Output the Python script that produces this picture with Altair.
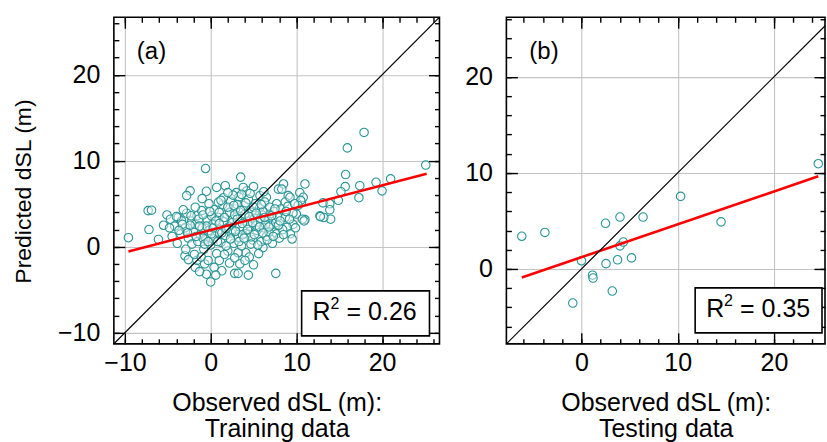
import altair as alt
import pandas as pd

# ---------------- data ----------------
train_obs = [-9.6, -7.3, -6.9, -7.2, -6.1, -5.1, -4.7, -3.8, -3.4, -2.8,
             -2.2, -1.6, -1.05, -2.4, -2.8, -0.6, 3.5, -0.5, 0.7, 1.7,
             3.0, 4.2, 5.75, 6.5, 7.9, 2.8, 3.2, 4.4, 5.0, 7.6,
             -0.5, 0.0, -3.0, -2.6, -1.8, -0.7, 11.0, 12.75, 10.0, 6.1,
             4.1, 3.2, 11.0, 8.5, 8.3, 9.05, 10.4, 10.6, 7.7, 8.7,
             17.9, 15.95, 25.1, 15.75, 15.7, 17.4, 19.3, 21.0, 20.0, 17.3,
             15.2, 14.9, 13.9, 13.9, 14.0, 13.2, 12.8, 13.1, 10.8, 10.5,
             10.7, 10.9, 9.6, 8.9, 9.25, 7.5, 7.7, 7.3, 6.9, -1.6,
             -3.5, -3.0, -2.6, -2.2, -2.0, -1.8, -1.5, -1.2, -1.0, -0.8,
             -0.6, -0.4, -0.2, 0.0, 0.2, 0.4, 0.5, 0.7, 0.9, 1.1,
             1.2, 1.4, 1.5, 1.7, 1.9, 2.0, 2.1, 2.3, 2.4, 2.6,
             2.7, 2.9, 3.0, 3.2, 3.3, 3.5, 3.6, 3.8, 3.9, 4.1,
             4.2, 4.4, 4.5, 4.6, 4.8, 4.9, 5.1, 5.2, 5.4, 5.5,
             5.7, 5.9, 6.0, 6.2, 6.3, 6.5, 6.7, 6.9, 7.0, 7.2,
             7.4, 7.6, 7.8, 8.0, 8.2, 8.4, 8.7, 9.0, 9.3, 9.6,
             9.9, 10.2, -4.2, -3.9, -4.5, -5.5, -2.9, -1.9, -1.1, -0.3,
             0.4, 1.0, 1.6, 1.3, 0.6, -1.3, 2.2, 2.8, 3.4, 5.6,
             4.0, 0.8, 1.0, 1.8, 2.2, 2.5, 2.8, 3.1, 3.4, 3.7,
             4.0, 4.3, 4.7, 5.0, 5.3, 5.8, 6.1, 6.4, 6.8, -0.9,
             -0.5, 0.1, 0.3, -1.4, -2.4, 1.5, 2.6, 0.9, -0.2, -1.0,
             -1.8, -3.2, -4.0, 3.8, 5.0, 6.2, 4.6, 2.0,
             -2.7, -2.3, -1.7, -1.3, -0.9, -0.7, -0.3, 0.1, 0.3, 0.6,
             0.8, 1.0, 1.3, 1.6, 1.8, 2.0, 2.3, 2.5, 2.7, 2.9,
             3.1, 3.3, 3.5, 3.7, 3.9, 4.1, 4.3, 4.5, 4.7, 4.9,
             5.1, 5.3, 5.5, 5.7, 5.9, 6.1, 6.3, 6.6, 6.8, 7.1,
             7.3, 7.5, 7.9, 8.1, 8.5, 8.8, 9.2, 9.5, 9.8, -3.3,
             -3.7, -4.8, -0.1, 1.2, 3.6]
train_pred = [1.05, 4.2, 4.25, 2.0, 0.85, 3.7, 3.2, 3.4, 3.0, 3.9,
              3.0, 3.6, 4.2, 6.5, 5.95, 9.1, 8.1, 6.45, 6.9, 7.1,
              6.3, 6.5, 5.95, 5.75, 6.7, -3.1, -3.1, -3.3, -2.1, -3.1,
              -3.2, -4.1, -1.05, -1.5, -2.4, -2.0, 3.15, 3.6, 3.8, -0.1,
              -0.7, -0.7, 7.3, 7.3, 6.7, 5.95, 6.3, 5.2, 5.0, 5.2,
              13.3, 11.5, 9.5, 8.4, 7.0, 7.1, 7.5, 7.9, 6.5, 5.7,
              6.4, 5.4, 5.0, 4.3, 3.2, 3.4, 3.5, 5.1, 5.75, 5.4,
              3.2, 3.0, 2.6, 2.25, 5.75, 1.7, 1.5, 3.2, 3.8, -1.6,
              1.5, 2.2, 1.0, 0.3, 1.8, 2.6, 0.6, 1.4, 2.2, -0.3,
              0.9, 3.1, 1.9, 0.2, 2.6, 4.3, 1.2, -0.8, 3.4, 2.0,
              0.5, 4.9, 2.9, 1.3, 3.8, -0.5, 2.3, 5.3, 1.6, 3.2,
              0.4, 4.4, 2.6, 1.1, 5.8, 3.5, 0.1, 2.1, 4.8, 1.5,
              3.0, 5.5, -1.2, 2.4, 4.0, 0.8, 3.3, 5.0, 1.9, 2.9,
              4.5, 0.6, 3.7, 2.2, 5.2, 1.2, 3.0, 4.6, 2.5, 0.4,
              4.1, 2.8, 3.5, 1.0, 4.4, 2.0, 3.4, 4.7, 1.5, 3.9,
              2.2, 4.8, 2.4, 0.4, 1.2, 2.5, -0.3, -0.9, -1.2, -1.6,
              -2.4, -1.6, -0.9, -2.8, -3.3, -2.9, -1.9, -1.3, -2.0, -0.8,
              -1.6, 1.7, 4.0, 0.1, 4.0, 2.0, 3.7, 4.9, 2.3, 1.4,
              3.8, 2.7, 1.1, 4.6, 2.5, 3.3, 4.1, 2.6, 1.7, 1.0,
              2.4, 3.6, 0.9, 3.2, 2.5, 5.7, 6.0, 5.2, 5.0, 5.6,
              4.6, 4.3, 3.5, 6.9, 7.0, 6.4, 6.2, 6.3,
              1.6, 3.6, 1.2, 2.4, 3.7, 0.3, 0.6, 1.5, 2.2, 3.0,
              0.6, 2.7, 1.6, 3.4, 2.1, 4.6, 0.9, 2.8, 4.8, 1.8,
              3.2, 0.6, 4.2, 2.7, 1.0, 5.1, 2.0, 3.5, 0.3, 2.8,
              1.4, 3.9, 0.2, 2.3, 4.9, 1.6, 3.4, 0.8, 2.3, 3.6,
              1.2, 4.4, 2.5, 3.0, 1.4, 4.1, 3.2, 0.9, 5.0, 2.6,
              1.9, 2.2, 4.1, 5.4, 6.1]

test_obs = [-6.2, -3.8, 0.0, -0.9, 1.15, 1.2, 2.5, 2.55, 3.2,
            3.75, 4.0, 4.0, 4.35, 5.2, 6.4, 10.3, 14.5, 24.6]
test_pred = [3.4, 3.8, 0.85, -3.55, -0.65, -0.95, 4.75, 0.55, -2.3,
             0.95, 5.4, 2.4, 2.8, 1.15, 5.4, 7.55, 4.9, 10.95]

# regression lines (end points)
fit_a_obs = [-9.6, 25.2]
fit_a_pred = [-0.55, 8.48]
fit_b_obs = [-6.2, 24.6]
fit_b_pred = [-0.9, 9.64]

one_to_one = [-30, 40]

panel_tags = ["(a)", "(b)"]
r2_values = ["= 0.26", "= 0.35"]
x_titles = [["Observed dSL (m):", "Training data"], ["Observed dSL (m):", "Testing data"]]
y_title = "Predicted dSL (m)"

major_a = [-10, 0, 10, 20]
minor_a = [-10, -8, -6, -4, -2, 0, 2, 4, 6, 8, 10, 12, 14, 16, 18, 20, 22, 24, 26]
major_b = [0, 10, 20]
minor_b = [-6, -4, -2, 0, 2, 4, 6, 8, 10, 12, 14, 16, 18, 20, 22, 24, 26]

FONT = "Liberation Sans"
TEAL = "#2a9696"
GRID = "#c4c4c4"


def axis(orient, values, major, labels=False, title=None, grid=False):
    size = 11 if major else 5
    kw = dict(orient=orient, values=values, domain=False, grid=grid,
              gridColor=GRID, gridWidth=1.1, tickColor="black", tickWidth=1.4,
              tickSize=alt.ExprRef(expr=str(-size)), labels=labels,
              title=title)
    if labels:
        pad = 25 if orient in ("left", "right") else 18
        kw.update(labelFont=FONT, labelFontSize=25, labelColor="black",
                  labelPadding=pad, format="d", labelFlush=False,
                  labelOverlap=False)
    if title is not None:
        if orient == "left":
            kw.update(titleFont=FONT, titleFontSize=23, titleFontWeight="normal",
                      titleColor="black", titlePadding=22, titleY=174)
        else:
            kw.update(titleFont=FONT, titleFontSize=25, titleFontWeight="normal",
                      titleColor="black", titlePadding=15, titleLineHeight=26)
    return alt.Axis(**kw)


def panel(obs, pred, fx, fy, xdom, ydom, w, h, xmaj, xmin, ymaj, ymin,
          xtitle, ytitle, tag, r2, box):
    df = pd.DataFrame({"obs": obs, "pred": pred})
    fit = pd.DataFrame({"obs": fx, "pred": fy})
    diag = pd.DataFrame({"v": one_to_one})
    xs = alt.Scale(domain=xdom, nice=False, zero=False)
    ys = alt.Scale(domain=ydom, nice=False, zero=False)

    pts = alt.Chart(df).mark_point(
        shape="circle", size=72, filled=False, stroke=TEAL, fill="white",
        fillOpacity=0.45, strokeWidth=1.1, opacity=1
    ).encode(
        x=alt.X("obs:Q", scale=xs, axis=axis("bottom", xmaj, True, True, xtitle, True)),
        y=alt.Y("pred:Q", scale=ys, axis=axis("left", ymaj, True, True, ytitle, True)),
    )
    fitl = alt.Chart(fit).mark_line(color="red", strokeWidth=2.6).encode(
        x=alt.X("obs:Q", scale=xs, axis=axis("bottom", xmin, False)),
        y=alt.Y("pred:Q", scale=ys, axis=axis("left", ymin, False)),
    )
    dl = alt.Chart(diag).mark_line(color="black", strokeWidth=1.2, clip=True).encode(
        x=alt.X("v:Q", scale=xs, axis=axis("top", xmaj, True)),
        y=alt.Y("v:Q", scale=ys, axis=axis("right", ymaj, True)),
    )
    hidden = alt.Chart(df).mark_point(opacity=0).encode(
        x=alt.X("obs:Q", scale=xs, axis=axis("top", xmin, False)),
        y=alt.Y("pred:Q", scale=ys, axis=axis("right", ymin, False)),
    )
    tdf = pd.DataFrame({"tag": [tag], "r": ["R"], "sup": ["2"], "val": [r2]})
    tagt = alt.Chart(tdf).mark_text(
        font=FONT, fontSize=24, align="left", baseline="alphabetic", color="black"
    ).encode(x=alt.value(23), y=alt.value(42), text="tag:N")
    bx0, bx1, by0, by1 = box
    base_y = by1 - 16
    rect = alt.Chart(tdf).mark_rect(fill="white", stroke="black", strokeWidth=1.6).encode(
        x=alt.value(bx0), x2=alt.value(bx1), y=alt.value(by0), y2=alt.value(by1))
    txt = dict(font=FONT, align="left", baseline="alphabetic", color="black")
    rt = alt.Chart(tdf).mark_text(fontSize=25, **txt).encode(
        x=alt.value(bx0 + 11), y=alt.value(base_y), text="r:N")
    st = alt.Chart(tdf).mark_text(fontSize=16, **txt).encode(
        x=alt.value(bx0 + 29), y=alt.value(base_y - 10.5), text="sup:N")
    vt = alt.Chart(tdf).mark_text(fontSize=25, **txt).encode(
        x=alt.value(bx0 + 45), y=alt.value(base_y), text="val:N")

    return alt.layer(pts, fitl, dl, hidden, tagt, rect, rt, st, vt).resolve_axis(
        x="independent", y="independent"
    ).properties(width=w, height=h)


pa = panel(train_obs, train_pred, fit_a_obs, fit_a_pred, [-11.3, 26.7], [-11.3, 26.7],
           326, 327, major_a, minor_a, major_a, minor_a, x_titles[0], y_title,
           panel_tags[0], r2_values[0], (188, 316, 274, 319))
pb = panel(test_obs, test_pred, fit_b_obs, fit_b_pred, [-7.8, 25.3], [-7.8, 26.2],
           319, 327, major_b, minor_b, major_b, minor_b, x_titles[1], None,
           panel_tags[1], r2_values[1], (189, 316, 271, 316))

chart = alt.hconcat(pa, pb, spacing=67, bounds="flush").properties(
    padding={"left": 11, "top": 15, "right": 0, "bottom": 0},
    background="white",
).configure_view(stroke="black", strokeWidth=1.6)

chart.save("out.html", embed_options={"renderer": "svg", "actions": False})
